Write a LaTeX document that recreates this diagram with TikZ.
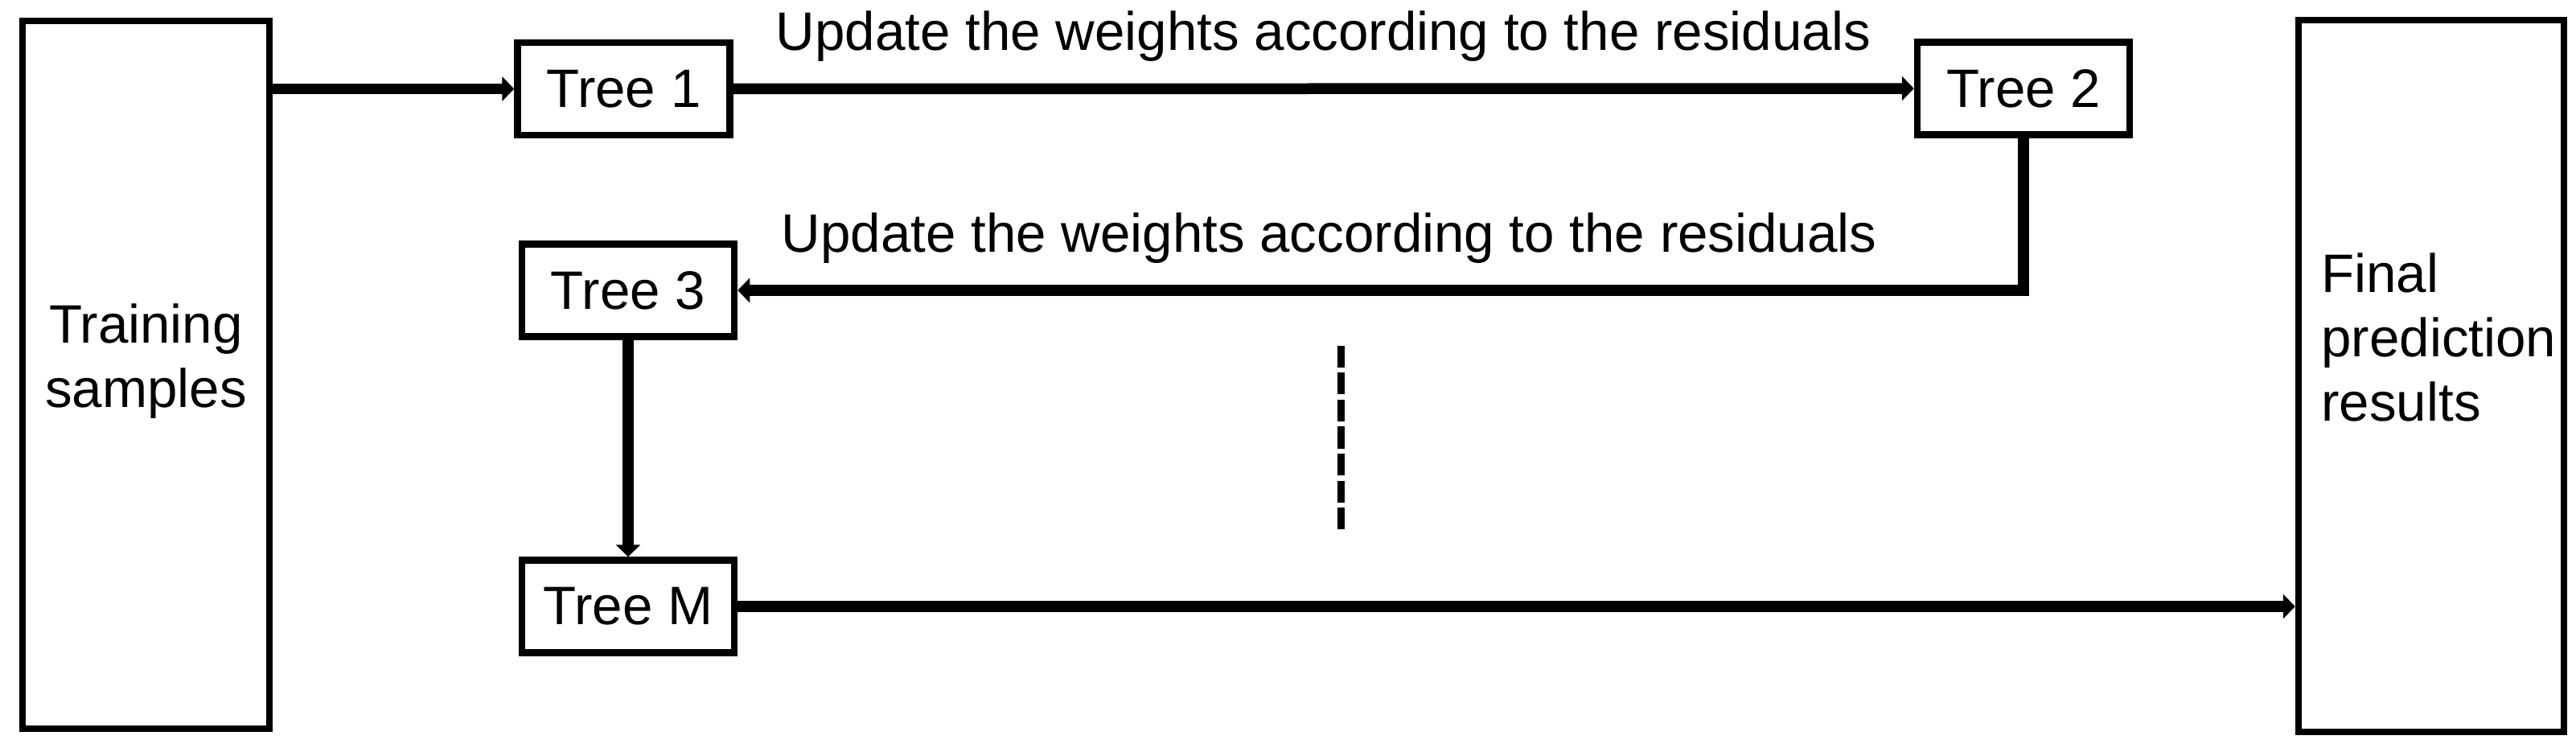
\documentclass[tikz,border=0pt]{standalone}
\usepackage{fontspec}
\setmainfont{Liberation Sans}
\usetikzlibrary{arrows.meta,positioning}

\begin{document}
\begin{tikzpicture}[every node/.style={
    rectangle,
    inner sep=0pt,
    font=\fontsize{19.15}{22.8}\selectfont
},
    tree_box/.style={draw, line width=0.085cm, minimum width=2.64cm, minimum height=1.15cm},
    side_box/.style={draw, line width=0.085cm, minimum height=8.8cm},
    flow/.style={line width=0.135cm, -{Triangle[length=0.15cm, width=0.3cm]}},
    note/.style={above=0.27cm}
]
    \useasboundingbox (0, 0) rectangle (32.03, 9.29);

    \node (training_samples) [side_box, minimum width=3.07cm, shift={(1.815, 4.63)}] {};
    \node (training_text) [below=3.55cm of training_samples.north, align=center]
    {
        Training\\samples
    };
    \node (final_results) [side_box, minimum width=3.30cm, minimum height=8.85cm, shift={(30.23, 4.615)}] {};
    \node (final_text) [below right=2.93cm and 0.32cm of final_results.north west, align=left]
    {
        Final\\prediction\\results
    };

    \node (tree_1) [tree_box, shift={(7.755, 8.185)}]
    {
        Tree 1
    };
    \node (tree_2) [tree_box, shift={(25.16, 8.19)}]
    {
        Tree 2
    };
    \node (tree_3) [tree_box, shift={(7.81, 5.68)}]
    {
        Tree 3
    };
    \node (tree_m) [tree_box, shift={(7.81, 1.75)}]
    {
        Tree M
    };

    \coordinate (dots_top) at (16.67, 4.99);
    \coordinate (dots_bottom) at (16.67, 2.71);

    \draw[flow] (training_samples.east |- tree_1) to (tree_1);
    \draw[flow] (tree_1) to node[note, midway] {Update the weights according to the residuals} (tree_2);
    \draw[flow] (tree_2) |- node[note, pos=0.77] {Update the weights according to the residuals} (tree_3);
    \draw[flow] (tree_3) to (tree_m);
    \draw[flow] (tree_m) to (tree_m -| final_results.west);

    \draw[line width=0.09cm, dash pattern=on 0.27cm off 0.065cm] (dots_top) to (dots_bottom);
\end{tikzpicture}
\end{document}
